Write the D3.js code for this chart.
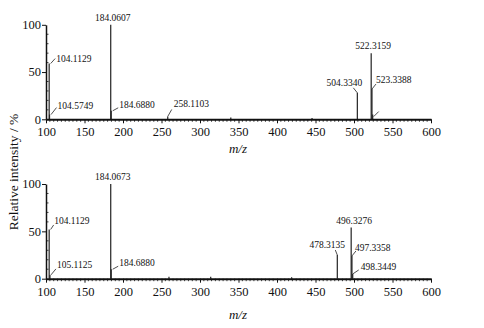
<!DOCTYPE html>
<html><head><meta charset="utf-8">
<script src="https://cdn.jsdelivr.net/npm/d3@7"></script>
<style>body{margin:0;background:#fff}svg{display:block}text{font-family:"Liberation Serif","Times New Roman",serif;fill:#111}</style>
</head><body><svg id="c" width="484" height="328"></svg>
<script>
// ---- data ----
const xTicks = [100,150,200,250,300,350,400,450,500,550,600];
const yTicks = [0,50,100];
const topMz        = [104.1129,104.5749,184.0607,184.6880,258.1103,340.0,445.5,504.3340,522.3159,523.3388,524.3];
const topIntensity = [59,5,100,9,3,2,1.5,28,70,32,5];
const topLabels    = ["104.1129","104.5749","184.0607","184.6880","258.1103","","","504.3340","522.3159","523.3388",""];
const botMz        = [104.1129,105.1125,184.0673,184.6880,259.7,313.9,419.0,478.3135,496.3276,497.3358,498.3449];
const botIntensity = [52,4,100,10,2,2,1.5,25,54,24,5];
const botLabels    = ["104.1129","105.1125","184.0673","184.6880","","","","478.3135","496.3276","497.3358","498.3449"];
// label layout (pixel offsets of label from peak top; leader yes/no)
const topLayout = {
  "104.1129":{dx:7,dy:-2,anchor:"start",lead:[[1.5,0],[6,-5]]},
  "104.5749":{dx:8,dy:-6,anchor:"start",lead:[[1.5,0],[7,-7]]},
  "184.0607":{dx:2,dy:-4,anchor:"middle"},
  "184.6880":{dx:8,dy:-3,anchor:"start",lead:[[1.5,0],[7,-3]]},
  "258.1103":{dx:6,dy:-9,anchor:"start",lead:[[0,0],[4,-7]]},
  "504.3340":{dx:-13,dy:-7,anchor:"middle",lead:[[0,0],[-4,-5]]},
  "522.3159":{dx:2,dy:-4,anchor:"middle"},
  "523.3388":{dx:4,dy:-6,anchor:"start",lead:[[0,0],[4,-5]]},
  "":null
};
const botLayout = {
  "104.1129":{dx:5,dy:-5,anchor:"start",lead:[[1.5,0],[4.5,-4.5]]},
  "105.1125":{dx:7,dy:-7,anchor:"start",lead:[[1,0],[6,-6]]},
  "184.0673":{dx:2,dy:-4,anchor:"middle"},
  "184.6880":{dx:8,dy:-3,anchor:"start",lead:[[1.5,0],[7,-3]]},
  "478.3135":{dx:-10,dy:-7,anchor:"middle",lead:[[0,0],[-2,-5]]},
  "496.3276":{dx:3,dy:-4,anchor:"middle"},
  "497.3358":{dx:3,dy:-5,anchor:"start",lead:[[0,0],[4,-5]]},
  "498.3449":{dx:8,dy:-4,anchor:"start",lead:[[0,0],[6,-4]]},
  "":null
};

const svg = d3.select("#c");
const x = d3.scaleLinear().domain([100,600]).range([46,431]);

function panel(y0, y100, mz, inten, labels, layout){
  const y = d3.scaleLinear().domain([0,100]).range([y0,y100]);
  const g = svg.append("g");
  g.selectAll("line.pk").data(mz.map((m,i)=>({m,v:inten[i],l:labels[i]}))).join("line")
    .attr("x1",d=>x(d.m)).attr("x2",d=>x(d.m)).attr("y1",y(0)).attr("y2",d=>y(d.v))
    .attr("stroke","#222").attr("stroke-width",1.2);
  mz.forEach((m,i)=>{
    const lab = labels[i]; const L = layout[lab];
    if (m===524.3) {
      g.append("line").attr("x1",x(m)+1).attr("y1",y(inten[i])+2).attr("x2",x(m)+6).attr("y2",y(inten[i])-3).attr("stroke","#222").attr("stroke-width",0.8);
    }
    if(!lab || !L) return;
    const px = x(m), py = y(inten[i]);
    if (L.lead){
      const a=L.lead[0], b=L.lead[1];
      g.append("line").attr("x1",px+a[0]).attr("y1",py+a[1]).attr("x2",px+b[0]).attr("y2",py+b[1])
        .attr("stroke","#222").attr("stroke-width",0.8);
    }
    g.append("text").attr("x",px+L.dx).attr("y",py+L.dy).attr("text-anchor",L.anchor)
      .attr("font-size","9.5px").text(lab);
  });
  const xa = g.append("g").attr("transform",`translate(0,${y0})`)
    .call(d3.axisBottom(x).tickValues(xTicks).tickSize(4).tickSizeOuter(0).tickPadding(4));
  xa.select(".domain").attr("stroke-width",2).attr("stroke","#111");
  xa.selectAll(".tick line").attr("stroke","#111").attr("stroke-width",1);
  xa.selectAll("text").attr("font-size","12.5px").attr("font-family","Liberation Serif").attr("fill","#111");
  const minor = d3.range(100,601,5).filter(v=>v%50!==0);
  g.selectAll("line.mx").data(minor).join("line").attr("class","mx")
    .attr("x1",d=>x(d)).attr("x2",d=>x(d)).attr("y1",y0).attr("y2",y0+2.5).attr("stroke","#111").attr("stroke-width",0.8);
  const ya = g.append("g").attr("transform","translate(46,0)")
    .call(d3.axisLeft(y).tickValues(yTicks).tickSize(4).tickSizeOuter(0).tickPadding(1));
  ya.select(".domain").attr("stroke-width",1.5).attr("stroke","#111");
  ya.selectAll(".tick line").attr("stroke","#111");
  ya.selectAll("text").attr("font-size","12.5px").attr("font-family","Liberation Serif").attr("fill","#111").attr("dy","0.3em");
  const yminor = d3.range(10,100,10).filter(v=>v!==50);
  g.selectAll("line.my").data(yminor).join("line").attr("class","my")
    .attr("x1",46).attr("x2",48.5).attr("y1",d=>y(d)).attr("y2",d=>y(d)).attr("stroke","#111").attr("stroke-width",0.8);
  return y;
}
panel(119.3, 24.8, topMz, topIntensity, topLabels, topLayout);
panel(278.7, 184, botMz, botIntensity, botLabels, botLayout);

svg.append("text").attr("x",238).attr("y",153).attr("text-anchor","middle").attr("font-size","13px").attr("font-style","italic").text("m/z");
svg.append("text").attr("x",238).attr("y",319).attr("text-anchor","middle").attr("font-size","13px").attr("font-style","italic").text("m/z");
svg.append("text").attr("transform","translate(18,172) rotate(-90)").attr("text-anchor","middle").attr("font-size","13.5px").text("Relative intensity / %");
</script></body></html>
